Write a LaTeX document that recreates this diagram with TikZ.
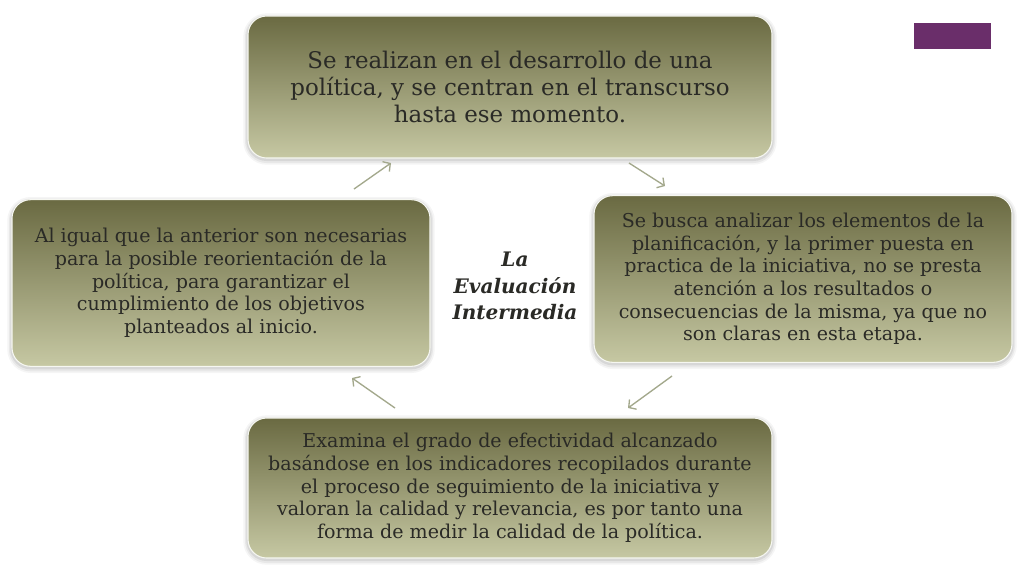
\documentclass[tikz,border=0pt]{standalone}
\usepackage{fontspec}
\setmainfont{DejaVu Serif}
\usetikzlibrary{arrows.meta}
\definecolor{olivetop}{HTML}{6A6A42}
\definecolor{olivemid}{HTML}{9C9D76}
\definecolor{olivebot}{HTML}{C6C8A3}
\definecolor{txt}{HTML}{2A2A26}
\definecolor{arrowc}{HTML}{A3A88C}
\definecolor{plum}{HTML}{6A2E6A}
\tikzset{
  card/.style={rounded corners=14pt, top color=olivetop, middle color=olivemid, bottom color=olivebot,
    draw=white!85!olivebot, line width=0.8pt, align=center, text=txt, inner sep=0pt,
    preaction={draw=black, opacity=0.04, line width=7pt, transform canvas={yshift=-1.5pt}},
    preaction={draw=black, opacity=0.05, line width=4.5pt, transform canvas={yshift=-1.5pt}},
    preaction={draw=black, opacity=0.07, line width=2.5pt, transform canvas={yshift=-1pt}}},
  bigtxt/.style={font=\fontsize{17.2}{20}\selectfont},
  smalltxt/.style={font=\fontsize{14.3}{17}\selectfont},
  flow/.style={draw=arrowc, line width=1pt, -{Straight Barb[length=4pt,width=9pt]}}
}
\begin{document}
\begin{tikzpicture}[x=0.75pt,y=-0.75pt]
\useasboundingbox (0,0) rectangle (1024,576);
\fill[white] (0,0) rectangle (1024,576);
\node[card, bigtxt, minimum width=393pt, minimum height=106.5pt] (top) at (510,87)
  {Se realizan en el desarrollo de una\\política, y se centran en el transcurso\\hasta ese momento.};
\node[card, smalltxt, minimum width=313.5pt, minimum height=125pt] (right) at (803,279)
  {Se busca analizar los elementos de la\\planificación, y la primer puesta en\\practica de la iniciativa, no se presta\\atención a los resultados o\\consecuencias de la misma, ya que no\\son claras en esta etapa.};
\node[card, smalltxt, minimum width=313.5pt, minimum height=125pt] (left) at (221,283)
  {Al igual que la anterior son necesarias\\para la posible reorientación de la\\política, para garantizar el\\cumplimiento de los objetivos\\planteados al inicio.};
\node[card, smalltxt, minimum width=393pt, minimum height=105pt] (bottom) at (510,488)
  {Examina el grado de efectividad alcanzado\\basándose en los indicadores recopilados durante\\el proceso de seguimiento de la iniciativa y\\valoran la calidad y relevancia, es por tanto una\\forma de medir la calidad de la política.};
\node[align=center, text=txt, font=\fontsize{15}{20}\selectfont\bfseries\itshape] (center) at (515,286)
  {La\\Evaluación\\Intermedia};
\node[fill=plum, minimum width=57.75pt, minimum height=19.5pt, inner sep=0pt] (mark) at (952.5,36) {};
\coordinate (a1s) at (354,189); \coordinate (a1e) at (391,163);
\coordinate (a2s) at (629,163); \coordinate (a2e) at (665,186);
\coordinate (a3s) at (672,376); \coordinate (a3e) at (628,408);
\coordinate (a4s) at (395,408); \coordinate (a4e) at (352,378);
\draw[flow] (a1s) -- (a1e);
\draw[flow] (a2s) -- (a2e);
\draw[flow] (a3s) -- (a3e);
\draw[flow] (a4s) -- (a4e);
\end{tikzpicture}
\end{document}
